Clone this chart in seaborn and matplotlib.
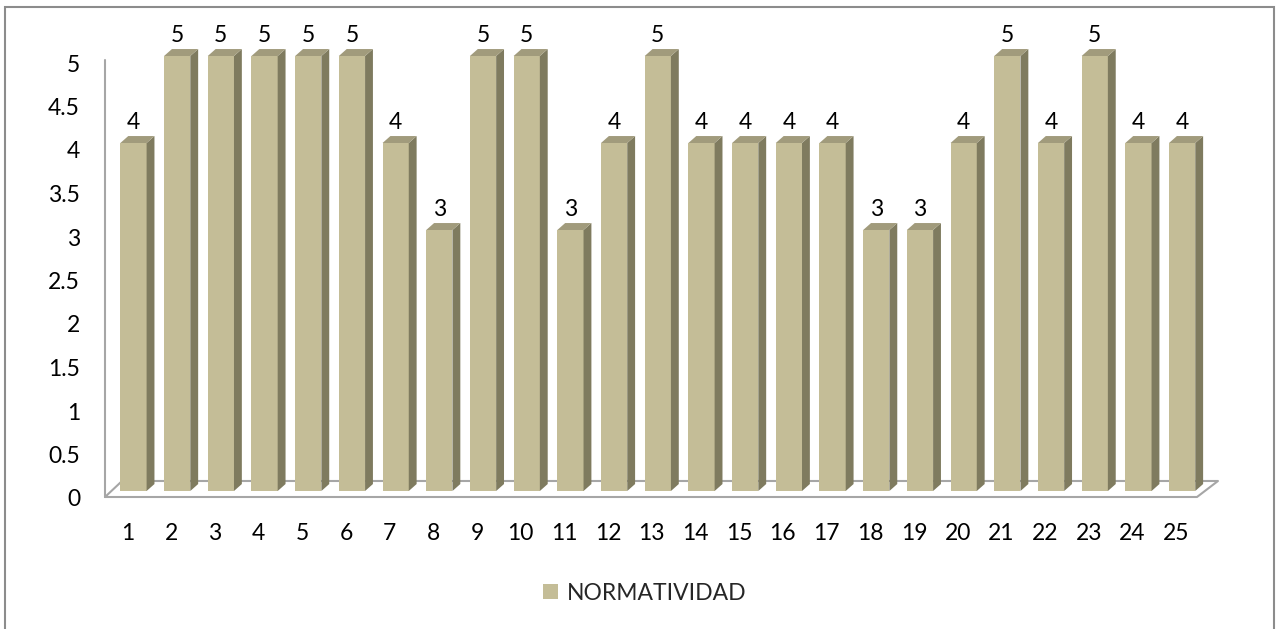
import pandas as pd
import matplotlib
matplotlib.use("Agg")
import matplotlib.pyplot as plt
import matplotlib.transforms as mtransforms
from matplotlib.patches import Polygon, Rectangle
import seaborn as sns

# datos
preguntas = [str(i) for i in range(1, 26)]
normatividad = [4, 5, 5, 5, 5, 5, 4, 3, 5, 5, 3, 4, 5, 4, 4, 4, 4, 3, 3, 4, 5, 4, 5, 4, 4]
y_ticks = [0, 0.5, 1, 1.5, 2, 2.5, 3, 3.5, 4, 4.5, 5]
serie = "NORMATIVIDAD"

df = pd.DataFrame({"pregunta": preguntas, "valor": normatividad})

sns.set_style("white")
plt.rcParams["font.family"] = ["Lato", "DejaVu Sans"]

frente = "#C4BD97"
arriba = "#A19B7C"
lado = "#7F7B5F"
gris = "#A6A6A6"
fs = 16.5

fig = plt.figure(figsize=(12.77, 6.29), dpi=100)
ax = fig.add_axes([105 / 1277, 138 / 629, 1092 / 1277, 435 / 629])

sns.barplot(x="pregunta", y="valor", data=df, color=frente, width=0.6,
            saturation=1, ax=ax, label=serie)

# profundidad del efecto 3D (en unidades de datos)
dx, dy = 0.18, 0.08
for p in ax.patches:
    x0, w, h = p.get_x(), p.get_width(), p.get_height()
    p.set_edgecolor("none")
    p.set_clip_on(False)
    ax.add_patch(Polygon([(x0 + w, 0), (x0 + w + dx, dy), (x0 + w + dx, h + dy), (x0 + w, h)],
                         closed=True, facecolor=lado, edgecolor="none", clip_on=False, zorder=2))
    ax.add_patch(Polygon([(x0, h), (x0 + dx, h + dy), (x0 + w + dx, h + dy), (x0 + w, h)],
                         closed=True, facecolor=arriba, edgecolor="none", clip_on=False, zorder=2))

ax.bar_label(ax.containers[0], fontsize=fs, padding=7, color="black")

x_min, x_max = -0.652, 24.34
ax.set_xlim(x_min, x_max)
ax.set_ylim(0, 5)
ax.set_yticks(y_ticks)
ax.set_yticklabels([f"{t:g}" for t in y_ticks])
ax.set_xlabel("")
ax.set_ylabel("")
for s in ax.spines.values():
    s.set_visible(False)

# piso y pared
yf, yb = -0.069, 0.115
ax.plot([x_min, x_max, x_max + 0.48, x_min + 0.39, x_min], [yf, yf, yb, yb, yf],
        color=gris, lw=1.5, clip_on=False, zorder=0.5)
ax.plot([x_min, x_min], [yf, 4.954], color=gris, lw=1.5, clip_on=False, zorder=0.5)

ax.tick_params(axis="both", length=0, labelsize=fs, labelcolor="black")
ax.tick_params(axis="y", pad=18)
ax.tick_params(axis="x", pad=23)
for lab in ax.get_xticklabels():
    lab.set_transform(lab.get_transform() + mtransforms.ScaledTranslation(-0.06, 0, fig.dpi_scale_trans))
for lab in ax.get_yticklabels():
    lab.set_transform(lab.get_transform() + mtransforms.ScaledTranslation(0, -0.07, fig.dpi_scale_trans))

ax.legend(loc="center", bbox_to_anchor=(645 / 1277, 1 - 593 / 629), bbox_transform=fig.transFigure,
          frameon=False, fontsize=fs, handlelength=0.65, handleheight=0.65, handletextpad=0.4)

# borde exterior
fig.patches.append(Rectangle((5 / 1277, -0.05), 1269 / 1277, 1.05 - 7 / 629, transform=fig.transFigure,
                             fill=False, edgecolor="#8C8C8C", lw=1.5))

fig.savefig("out.png", dpi=100)
